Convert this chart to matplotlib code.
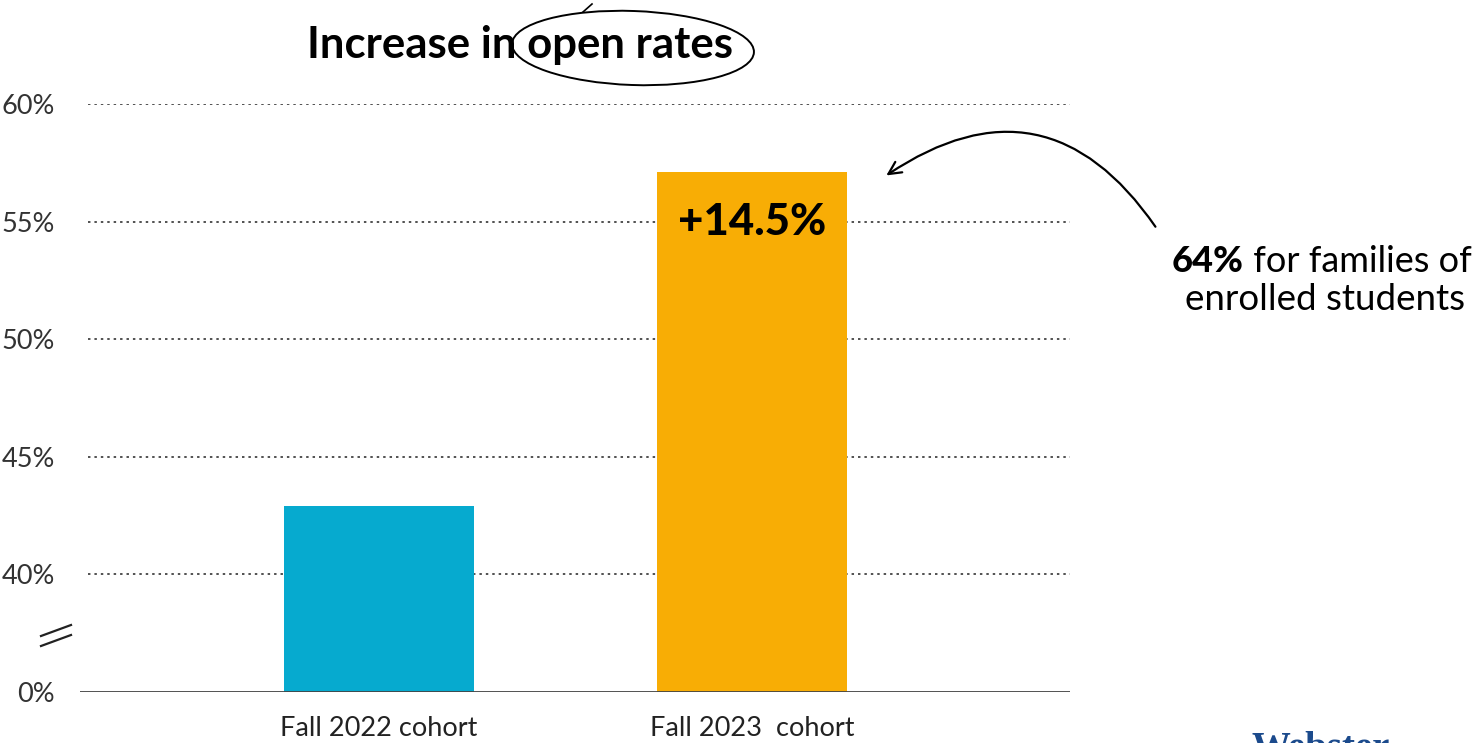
import matplotlib.pyplot as plt
from matplotlib.patches import Ellipse
from matplotlib.lines import Line2D

# data
cohorts = ['Fall 2022 cohort', 'Fall 2023  cohort']
open_rates = [42.9, 57.1]
bar_colors = ['#06AACF', '#F8AD05']
tick_values = [40, 45, 50, 55, 60]
tick_labels = ['40%', '45%', '50%', '55%', '60%']
axis_floor = 35  # the broken axis: 0% is drawn one step below 40%
increase_label = '+14.5%'

W, H = 1479, 743
plt.rcParams['font.family'] = ['Lato', 'DejaVu Sans']

fig = plt.figure(figsize=(W / 100, H / 100), dpi=100)
ax = fig.add_axes([80 / W, (H - 692) / H, (1070 - 80) / W, (692 - 104) / H])

x = [0, 1]
bars = ax.bar(x, [v - axis_floor for v in open_rates], bottom=axis_floor,
              width=0.51, color=bar_colors, zorder=3)
ax.set_xlim(-0.802, 1.853)
ax.set_ylim(axis_floor, 60)

for t in tick_values:
    ax.axhline(t, xmin=0.008, xmax=1, color='#222222', lw=1.1,
               ls=(0, (1.6, 2.6)), zorder=1)
ax.axhline(axis_floor, color='#444444', lw=1.3, zorder=4)

ax.set_yticks([axis_floor] + tick_values)
ax.set_yticklabels(['0%'] + tick_labels, fontsize=19.5, color='#333333')
ax.set_xticks(x)
ax.set_xticklabels(cohorts, fontsize=19.5, color='#222222')
ax.tick_params(axis='y', length=0, pad=18)
ax.tick_params(axis='x', length=0, pad=17)
for s in ax.spines.values():
    s.set_visible(False)

ax.text(1, 55, increase_label, ha='center', va='center', fontsize=31.5,
        fontweight='black', color='black', zorder=5)

# title with hand drawn ellipse
fig.text(520 / W, 1 - 45 / H, 'Increase in open rates', ha='center',
         va='center', fontsize=31.5, fontweight='bold', color='black')
fig.add_artist(Ellipse((6.33, (H - 48) / 100), 2.42, 0.74, angle=-2,
                       transform=fig.dpi_scale_trans, fill=False,
                       lw=1.4, color='black'))
fig.add_artist(Line2D([583 / W, 592 / W], [1 - 12 / H, 1 - 4 / H],
                      transform=fig.transFigure, color='black', lw=1.2))

# axis break mark
for dy in (0, 10):
    fig.add_artist(Line2D([41 / W, 71 / W], [1 - (636 + dy) / H, 1 - (625 + dy) / H],
                          transform=fig.transFigure, color='#222222', lw=1.6))

# side note with curved arrow
t64 = fig.text(1172 / W, 1 - 262 / H, '64%', ha='left', va='center', fontsize=26,
               fontweight='black', color='black')
fig.add_artist(plt.Annotation(' for families of', xy=(1, 0.5), xycoords=t64,
                              ha='left', va='center', fontsize=26, color='black'))
fig.text(1325 / W, 1 - 300 / H, 'enrolled students', ha='center', va='center',
         fontsize=26.5, color='black')
ax.annotate('', xy=(884 / W, 1 - 177 / H), xycoords='figure fraction',
            xytext=(1157 / W, 1 - 229 / H), textcoords='figure fraction',
            arrowprops=dict(arrowstyle='->,head_length=0.9,head_width=0.45',
                            connectionstyle='arc3,rad=0.5', color='black', lw=1.6))

# logo peeking in at the bottom edge
fig.text(1252 / W, 1 - 731 / H, 'Webster', ha='left', va='top',
         fontsize=28, fontweight='bold', family='Liberation Serif', color='#1B4A8C')

fig.savefig('out.png', dpi=100)
